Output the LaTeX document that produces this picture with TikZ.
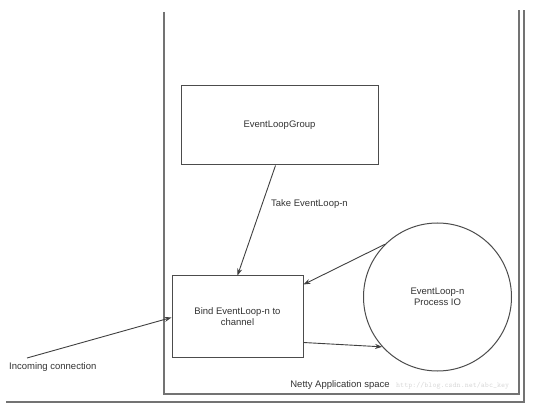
\documentclass[tikz,border=0pt]{standalone}
\usepackage{fontspec}
\setmainfont{Liberation Sans}
\usetikzlibrary{arrows.meta}
\begin{document}
\begin{tikzpicture}[x=1pt,y=-1pt,
  frame/.style={draw=black!55,line width=1.2pt},
  boxs/.style={draw=black!70,line width=1pt,fill=white},
  conn/.style={draw=black!75,line width=0.9pt,-{Stealth[length=7pt,width=5pt]}},
  lbl/.style={font=\fontsize{9.5}{11}\selectfont,text=black!80,align=center,inner sep=0pt}]
\useasboundingbox (0,0) rectangle (533,406);
% frames
\draw[frame] (164,12) -- (164,394) -- (519,394) -- (519,10);
\draw[frame] (6,402) -- (524,402) -- (524,10);
% nodes
\node[boxs,minimum width=197pt,minimum height=79pt] (elg) at (279.5,125.5) {};
\node[lbl] at (elg) {EventLoopGroup};
\node[boxs,minimum width=131pt,minimum height=81pt] (bind) at (237.5,316.5) {};
\node[lbl] at (bind) {Bind EventLoop-n to\\channel};
\node[boxs,circle,minimum size=148pt,inner sep=0pt] (el) at (437.5,297) {};
\node[lbl] at (el) {EventLoop-n\\Process IO};
\coordinate (inc) at (27,358);
\coordinate (a1) at ([xshift=-4pt]elg.south);
% connectors
\draw[conn] (a1) -- (bind.north);
\draw[conn] (el.135) -- ([yshift=32pt]bind.east);
\draw[conn] ([yshift=-26pt]bind.east) -- (el.222);
\draw[conn] (inc) -- ([yshift=-1pt]bind.west);
% labels
\node[lbl,anchor=west] (take) at (271,204) {Take EventLoop-n};
\node[lbl,anchor=west] (incl) at (9,367) {Incoming connection};
\node[lbl] (space) at (340,385) {Netty Application space};
\node[lbl,anchor=west,text=black!15,font=\fontsize{7.6}{9}\selectfont\ttfamily] (wm) at (396,386) {http://blog.csdn.net/abc\_key};
\end{tikzpicture}
\end{document}
